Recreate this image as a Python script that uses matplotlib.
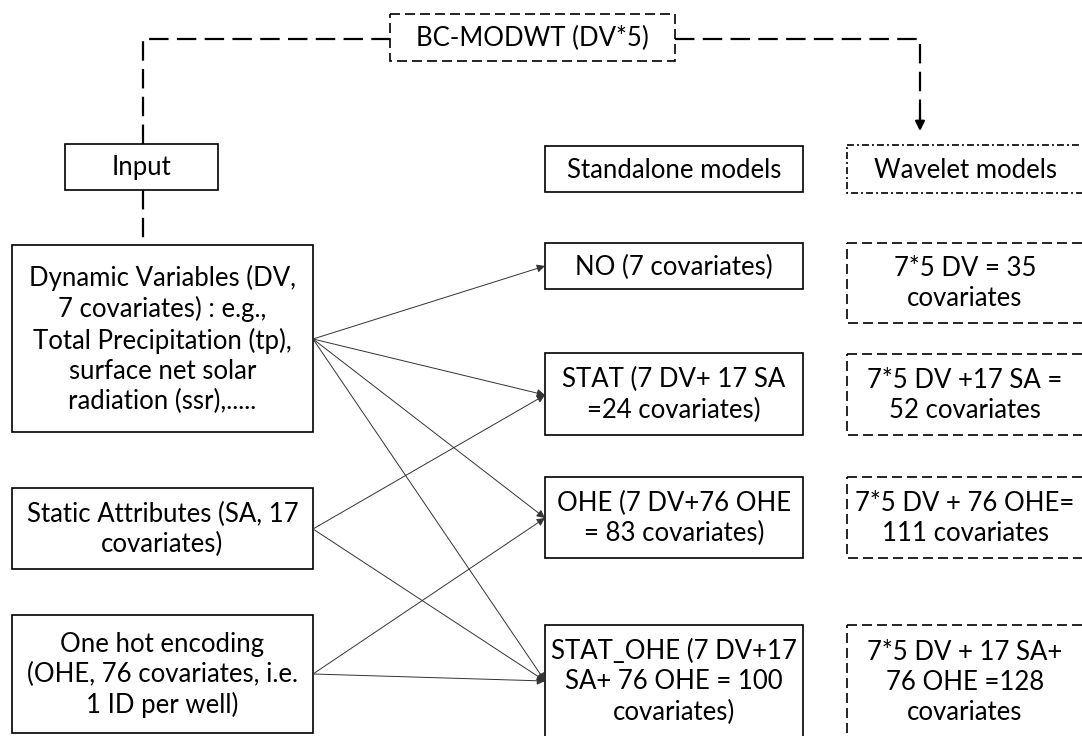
import matplotlib
matplotlib.use("Agg")
import matplotlib.pyplot as plt
from matplotlib.patches import Rectangle

plt.rcParams['font.family'] = ['Lato', 'DejaVu Sans']
plt.rcParams['lines.scale_dashes'] = False

# texts of the diagram
top_label = "BC-MODWT (DV*5)"
input_labels = [
    "Input",
    "Dynamic Variables (DV,\n7 covariates) : e.g.,\nTotal Precipitation (tp),\nsurface net solar\nradiation (ssr),.....",
    "Static Attributes (SA, 17\ncovariates)",
    "One hot encoding\n(OHE, 76 covariates, i.e.\n1 ID per well)",
]
standalone_labels = [
    "Standalone models",
    "NO (7 covariates)",
    "STAT (7 DV+ 17 SA\n=24 covariates)",
    "OHE (7 DV+76 OHE\n= 83 covariates)",
    "STAT_OHE (7 DV+17\nSA+ 76 OHE = 100\ncovariates)",
]
wavelet_labels = [
    "Wavelet models",
    "7*5 DV = 35\ncovariates",
    "7*5 DV +17 SA =\n52 covariates",
    "7*5 DV + 76 OHE=\n111 covariates",
    "7*5 DV + 17 SA+\n76 OHE =128\ncovariates",
]
# which input (1..3) feeds which standalone model (1..4)
links = [(1, 1), (1, 2), (1, 3), (1, 4), (2, 2), (2, 4), (3, 3), (3, 4)]

# layout in pixels (y downward): (top, bottom) rows
input_rows = [(144, 190), (245, 432), (488, 569), (615, 733)]
model_rows = [(146, 192), (243, 289), (353, 435), (477, 558), (625, 737)]
wave_rows = [(145, 193), (243, 323), (354, 435), (477, 558), (625, 737)]
link_start_y = {1: 339, 2: 529, 3: 674}
link_end_y = {1: 266, 2: 395, 3: 518, 4: 681}

box_dash = (0, (7.2, 3.6))
wave_dashdot = (0, (5.0, 2.2, 1.4, 2.2))
conn_dash = (0, (14, 6))


def draw_box(ax, x0, x1, y0, y1, text, ls='-', lw=1.2, tx=None):
    ax.add_patch(Rectangle((x0, y0), x1 - x0, y1 - y0, fill=False,
                           edgecolor='black', linewidth=lw, linestyle=ls))
    if tx is None:
        tx = (x0 + x1) / 2
    ax.text(tx, (y0 + y1) / 2 + 1, text, ha='center', va='center',
            fontsize=18.5, linespacing=1.25, color='black')


fig = plt.figure(figsize=(10.82, 7.36), dpi=100)
ax = fig.add_axes([0, 0, 1, 1])
ax.set_xlim(0, 1082)
ax.set_ylim(736, 0)
ax.axis('off')

# top dashed box and connectors
draw_box(ax, 390, 675, 14, 61, top_label, ls=box_dash)
ax.plot([143, 143, 390], [144, 39, 39], color='black', lw=1.6, ls=conn_dash)
ax.plot([675, 920, 920], [39, 39, 120], color='black', lw=1.6, ls=conn_dash)
ax.annotate('', xy=(920, 131), xytext=(920, 118),
            arrowprops=dict(arrowstyle='-|>', color='black', lw=1.6,
                            mutation_scale=14, shrinkA=0, shrinkB=0))
ax.plot([143, 143], [190, 245], color='black', lw=1.6, ls=conn_dash)

# input column
draw_box(ax, 65, 218, *input_rows[0], input_labels[0])
for (y0, y1), lab in zip(input_rows[1:], input_labels[1:]):
    draw_box(ax, 12, 313, y0, y1, lab)

# standalone column
for (y0, y1), lab in zip(model_rows, standalone_labels):
    draw_box(ax, 545, 803, y0, y1, lab)

# wavelet column (box runs past the right edge)
for i, ((y0, y1), lab) in enumerate(zip(wave_rows, wavelet_labels)):
    ls = wave_dashdot if i == 0 else box_dash
    draw_box(ax, 847, 1100, y0, y1, lab, ls=ls, tx=965)

# arrows
for src, dst in links:
    ax.annotate('', xy=(545, link_end_y[dst]), xytext=(313, link_start_y[src]),
                arrowprops=dict(arrowstyle='-|>', color='#333333', lw=0.7,
                                mutation_scale=12, shrinkA=0, shrinkB=0))

fig.savefig('out.png', dpi=100)
